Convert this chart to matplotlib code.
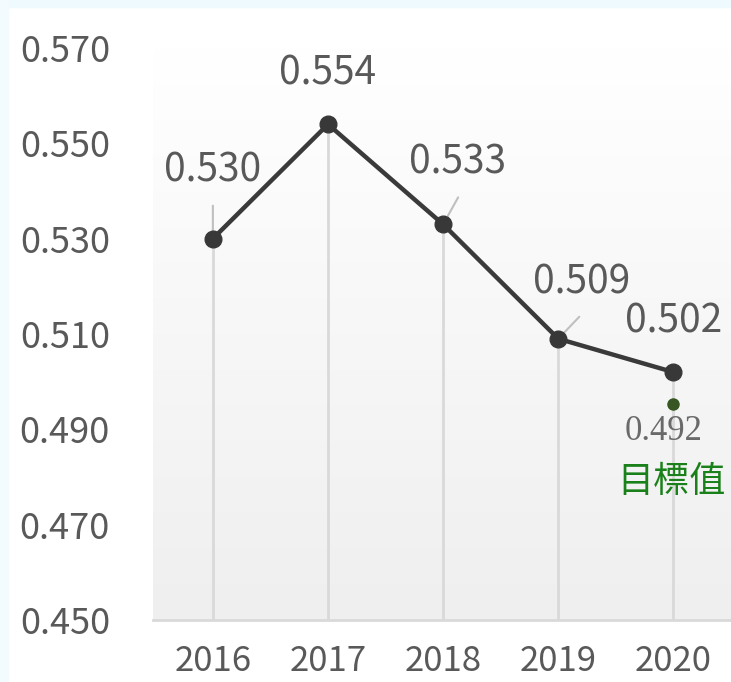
import numpy as np
import matplotlib
matplotlib.use("Agg")
import matplotlib.pyplot as plt
from matplotlib.patches import Rectangle
from matplotlib.transforms import offset_copy

plt.rcParams['font.family'] = ['Noto Sans CJK TC', 'DejaVu Sans']

# data
years = ['2016', '2017', '2018', '2019', '2020']
values = [0.530, 0.554, 0.533, 0.509, 0.502]
target = 0.492
target_label = '目標值'
y_ticks = [0.450, 0.470, 0.490, 0.510, 0.530, 0.550, 0.570]

# label offsets in pixels (dx, dy) and leader line ends
label_offsets = [(0, 68), (0, 51), (14, 62), (23, 56), (0, 51)]
leaders = [(0, 33), None, (15, 27), (21, 22), None]

text_col = '#595959'
line_col = '#3a3a3a'
grid_col = '#d9d9d9'

fig = plt.figure(figsize=(7.31, 6.82), dpi=100)
fig.patch.set_facecolor('white')
# faint cyan frame from the screenshot
fig.patches.append(Rectangle((0, 1 - 7 / 682), 1, 7 / 682, transform=fig.transFigure,
                             color='#eefafd', zorder=0))
fig.patches.append(Rectangle((0, 0), 8 / 731, 1, transform=fig.transFigure,
                             color='#f3fbfe', zorder=0))

ax = fig.add_axes([153 / 731, 62 / 682, (731 - 153) / 731, (634 - 62) / 682])
ax.set_facecolor('none')

# background gradient (white -> light gray)
grad = np.linspace(0, 1, 256).reshape(-1, 1)
cmap = matplotlib.colors.LinearSegmentedColormap.from_list('g', ['#efefef', '#ffffff'])
ax.imshow(grad, extent=[0, 1, 0, 1], transform=ax.transAxes, origin='lower',
          aspect='auto', cmap=cmap, zorder=0)

x = np.arange(len(years))
ax.set_xlim(-0.52, 4.5)
ax.set_ylim(0.450, 0.570)

ax.vlines(x, 0.450, values, color=grid_col, lw=2, zorder=1)
ax.plot(x, values, color=line_col, lw=3.2, marker='o', markersize=12,
        markerfacecolor='#383838', markeredgecolor='#383838', zorder=3)

for i, v in enumerate(values):
    dx, dy = label_offsets[i]
    ax.annotate(f'{v:.3f}', (x[i], v), xytext=(dx, dy), textcoords='offset pixels',
                ha='center', va='center', fontsize=28, color=text_col, zorder=4)
    if leaders[i] is not None:
        ax.annotate('', (x[i], v), xytext=leaders[i], textcoords='offset pixels',
                    arrowprops=dict(arrowstyle='-', color='#bfbfbf', lw=1.5,
                                    shrinkA=0, shrinkB=0), zorder=2)

# target
dot_tr = offset_copy(ax.transData, fig=fig, x=0, y=16, units='dots')
ax.plot([x[-1]], [target], 'o', color='#375623', markersize=8, transform=dot_tr, zorder=4)
ax.annotate(f'{target:.3f}', (x[-1], target), xytext=(-10, -12), textcoords='offset pixels',
            ha='center', va='center', fontsize=25, color='#6a6a6a',
            family=['Liberation Serif', 'DejaVu Serif'], zorder=4)
ax.annotate(target_label, (x[-1], target), xytext=(-2, -62), textcoords='offset pixels',
            ha='center', va='center', fontsize=26, color='#1a801a', zorder=4)

ax.set_xticks(x)
ax.set_xticklabels(years)
ax.set_yticks(y_ticks)
ax.set_yticklabels([f'{t:.3f}' for t in y_ticks])
ax.tick_params(axis='both', length=0, colors=text_col)
ax.tick_params(axis='x', pad=17, labelsize=25)
ax.tick_params(axis='y', pad=31, labelsize=26)

for s in ['top', 'right', 'left']:
    ax.spines[s].set_visible(False)
ax.spines['bottom'].set_color(grid_col)
ax.spines['bottom'].set_linewidth(2)

fig.savefig('out.png', dpi=100)
